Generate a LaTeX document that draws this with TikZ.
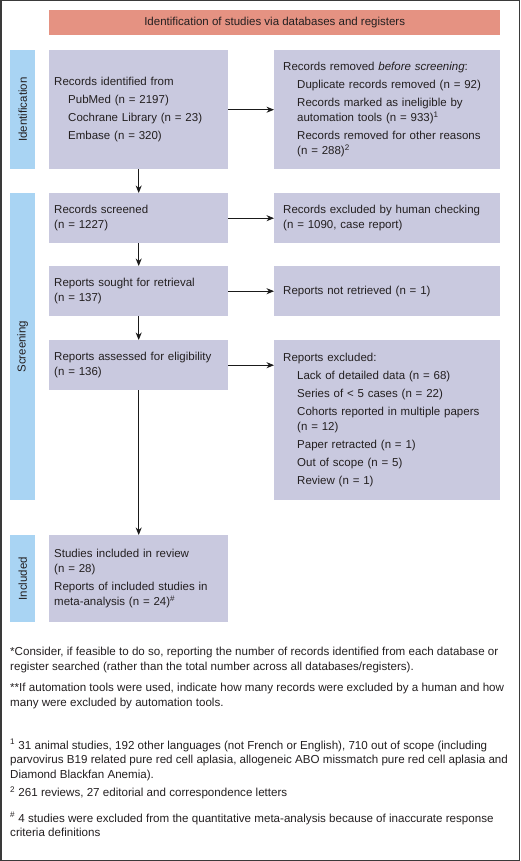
\documentclass[tikz,border=0pt]{standalone}
\usepackage{fontspec}
\setmainfont{Liberation Sans}
\usetikzlibrary{arrows.meta}
\definecolor{salmon}{HTML}{E59282}
\definecolor{lav}{HTML}{C9C9DF}
\definecolor{sky}{HTML}{A9D4F3}
\definecolor{framecol}{HTML}{3A3A3A}
\definecolor{txt}{HTML}{231F20}
\definecolor{arrcol}{HTML}{1A1A1A}
\newcommand\boxfont{\fontsize{11.5}{15.3}\selectfont}
\newcommand\footfont{\fontsize{11.6}{14.5}\selectfont}
\newcommand\myind{\hspace*{14pt}}
\begin{document}
\begin{tikzpicture}[x=1pt,y=-1pt,
  box/.style={fill=lav, draw=none, anchor=north west, align=left, inner ysep=2pt, font=\boxfont, text=txt},
  lbox/.style={box, inner xsep=5pt, text width=169pt},
  rbox/.style={box, inner xsep=9pt, text width=208pt},
  sidebar/.style={fill=sky, anchor=north west, minimum width=25pt, inner sep=0pt},
  sidelabel/.style={rotate=90, font=\boxfont, text=txt},
  arr/.style={-{Stealth[length=7.5pt,width=6pt]}, line width=0.9pt, draw=arrcol},
  foot/.style={anchor=west, align=left, inner sep=0pt, font=\footfont, text=txt}]
\useasboundingbox (0,0) rectangle (520,861);
\draw[line width=1.5pt, framecol] (0.75,0.75) rectangle (519.25,860.25);

\node[fill=salmon, anchor=north west, minimum width=451pt, minimum height=25pt, inner sep=0pt, font=\fontsize{11.5}{14}\selectfont, text=txt] (head) at (49,10) {Identification of studies via databases and registers};

\node[sidebar, minimum height=119pt] (idbar) at (10,50) {};
\node[sidelabel] (idlab) at (idbar.center) {Identification};
\node[sidebar, minimum height=307pt] (scbar) at (10,193) {};
\node[sidelabel] (sclab) at (scbar.center) {Screening};
\node[sidebar, minimum height=87pt] (inbar) at (10,535) {};
\node[sidelabel] (inlab) at (inbar.center) {Included};

\node[lbox, minimum height=119pt] (ident) at (49,50) {Records identified from\\[2.7pt]
\myind PubMed (n = 2197)\\[2.7pt]
\myind Cochrane Library (n = 23)\\[2.7pt]
\myind Embase (n = 320)};
\node[rbox, minimum height=119pt] (removed) at (274,50) {Records removed \textit{before screening}:\\[2.7pt]
\myind Duplicate records removed (n = 92)\\[2.7pt]
\myind Records marked as ineligible by\\
\myind automation tools (n = 933)\textsuperscript{1}\\[2.7pt]
\myind Records removed for other reasons\\
\myind (n = 288)\textsuperscript{2}};

\node[lbox, minimum height=50pt] (screened) at (49,193) {Records screened\\(n = 1227)};
\node[rbox, minimum height=50pt] (excl1) at (274,193) {Records excluded by human checking\\(n = 1090, case report)};

\node[lbox, minimum height=50pt] (sought) at (49,266) {Reports sought for retrieval\\(n = 137)};
\node[rbox, minimum height=50pt] (notret) at (274,266) {Reports not retrieved (n = 1)};

\node[lbox, minimum height=50pt] (assessed) at (49,340) {Reports assessed for eligibility\\(n = 136)};
\node[rbox, minimum height=160pt] (excl2) at (274,340) {Reports excluded:\\[2.7pt]
\myind Lack of detailed data (n = 68)\\[2.7pt]
\myind Series of < 5 cases (n = 22)\\[2.7pt]
\myind Cohorts reported in multiple papers\\
\myind (n = 12)\\[2.7pt]
\myind Paper retracted (n = 1)\\[2.7pt]
\myind Out of scope (n = 5)\\[2.7pt]
\myind Review (n = 1)};

\node[lbox, minimum height=87pt] (incl) at (49,535) {Studies included in review\\
(n = 28)\\[2.7pt]
Reports of included studies in\\
meta-analysis (n = 24)\textsuperscript{\#}};

\draw[arr] (ident.east) -- (removed.west);
\draw[arr] (ident.south) -- (screened.north);
\draw[arr] (screened.east) -- (excl1.west);
\draw[arr] (screened.south) -- (sought.north);
\draw[arr] (sought.east) -- (notret.west);
\draw[arr] (sought.south) -- (assessed.north);
\draw[arr] (assessed.east) -- (assessed.east -| excl2.west);
\draw[arr] (assessed.south) -- (incl.north);

\node[foot] (fnA) at (10,660) {*Consider, if feasible to do so, reporting the number of records identified from each database or\\register searched (rather than the total number across all databases/registers).};
\node[foot] (fnB) at (10,696) {**If automation tools were used, indicate how many records were excluded by a human and how\\many were excluded by automation tools.};
\node[foot] (fn1) at (10,760) {\textsuperscript{1} 31 animal studies, 192 other languages (not French or English), 710 out of scope (including\\parvovirus B19 related pure red cell aplasia, allogeneic ABO missmatch pure red cell aplasia and\\Diamond Blackfan Anemia).};
\node[foot] (fn2) at (10,793) {\textsuperscript{2} 261 reviews, 27 editorial and correspondence letters};
\node[foot] (fn3) at (10,824.5) {\textsuperscript{\#} 4 studies were excluded from the quantitative meta-analysis because of inaccurate response\\criteria definitions};
\end{tikzpicture}
\end{document}
